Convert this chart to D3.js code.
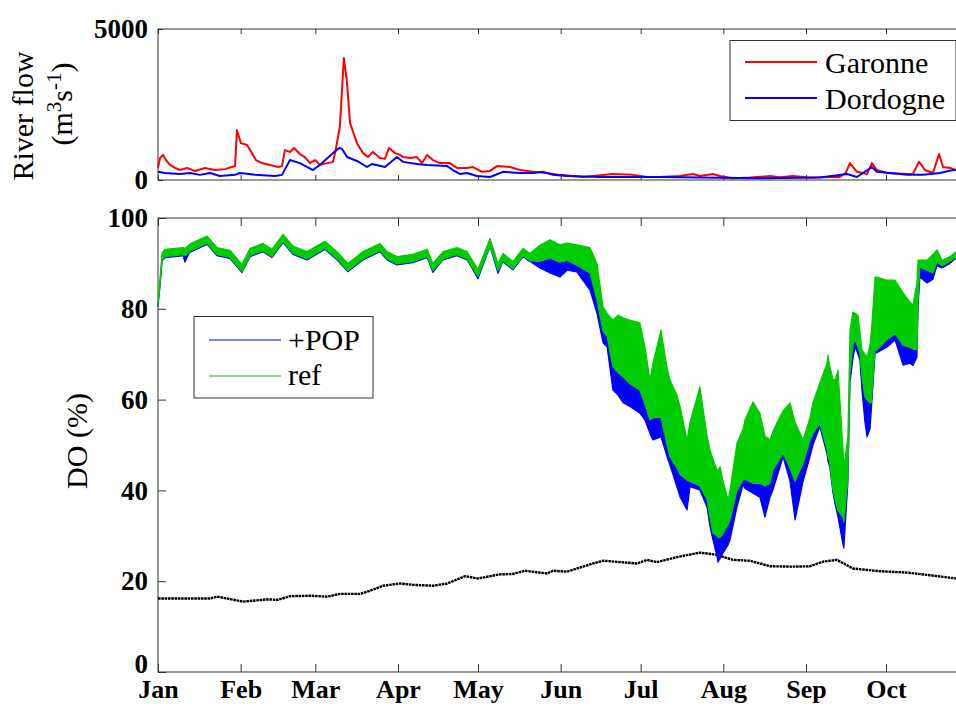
<!DOCTYPE html>
<html>
<head>
<meta charset="utf-8">
<script src="https://cdn.jsdelivr.net/npm/d3@7"></script>
<style>
  html, body { margin: 0; padding: 0; background: #fff; }
  svg { display: block; }
</style>
</head>
<body>
<svg id="chart" width="956" height="711"></svg>
<script>
// ---------------- DATA ----------------
const monthLabels = ["Jan","Feb","Mar","Apr","May","Jun","Jul","Aug","Sep","Oct"];
const monthStartDays = [0,31,59,90,120,151,181,212,243,273];
const flowTicks = [0, 5000];
const doTicks = [0, 20, 40, 60, 80, 100];

// River flow (m3 s-1), day of year (0 = 1 Jan)
const garonneDay  = [0,0.75,1.9,3,4.5,6.4,8.2,10.9,13.9,17.6,21.4,25.1,27.7,28.9,29.6,31.1,33.4,35.2,36.7,39,42,45,46.5,47.6,49.5,51,53.2,55.1,57,58.9,60.7,65.6,66.4,68.2,69.7,70.9,72,74.6,76.9,78.7,80.6,83.2,85.1,86.6,88.9,90.7,91.9,94.5,97.1,99,100.9,103.1,105.7,109.5,112.1,115.9,118.1,121.5,124.5,127.1,132,135.7,140.6,145.9,150.7,159.4,170.6,178.1,183.4,188.2,195.7,200.6,203.2,208.1,210.7,215.6,222,229.5,233.2,238.1,244.5,252,255.7,258,259.5,262.1,265.9,267.7,269.6,273.4,280.9,283.1,285.4,287.6,290.6,292.9,294.4,297,299.2];
const garonneFlow = [400,730,830,660,500,400,330,400,300,400,330,360,430,460,1650,1220,1160,890,660,560,500,430,460,990,930,1060,860,760,560,660,500,600,890,1760,4040,3210,1890,1220,890,760,930,730,700,1060,890,830,760,730,760,560,830,660,560,560,400,400,430,270,300,460,430,330,270,230,170,100,200,170,100,100,130,200,130,200,130,60,80,130,90,130,80,100,100,250,560,270,200,560,330,230,200,200,600,330,230,860,430,400,330];

const dordogneDay  = [0,2.6,8.2,12,15.7,19.5,23.2,28.9,30.7,36.4,43.9,46.5,49.5,53.2,58.1,60.7,65.6,67.9,69,70.9,74.6,78.4,80.2,85.1,89.6,91.9,97.1,100.9,108.4,110.6,113.2,115.9,119.6,124.5,129.4,135.7,140.6,144.4,148.1,153.4,165.7,188.2,203.2,225.7,248.2,258.4,262.1,267.7,269.6,274.5,280.9,286.9,293.2,298.1,299.2];
const dordogneFlow = [270,230,200,230,170,230,130,170,230,170,130,170,660,560,330,500,890,1060,1030,760,630,430,530,430,760,600,530,500,460,330,200,230,130,100,270,230,230,270,170,130,100,100,80,60,80,200,100,430,270,230,170,170,230,330,330];

// Dissolved oxygen saturation (%): tidal range of the "ref" run and lower envelope of "+POP" run
const doDay  = [0,0.75,1.5,2.6,6.4,9.4,10.1,12,15.7,18.4,22.1,27,31.5,34.5,39.4,42.7,46.9,50.6,55.9,62.6,67.1,71.2,76.9,83.2,85.9,89.6,95.6,100.9,103.1,106.9,112.1,115.9,120,124.5,127.5,129.4,133.1,136.9,139.5,143.2,147,150.7,153.4,157.1,162,164.6,166.9,168.4,170.6,172.5,174.4,177,180.7,182.6,184.5,185.6,188.6,190.9,192,194.6,195.8,198.4,199.5,203.2,205.9,207,208.1,209.6,210,210.8,211.9,213.8,214.5,217.1,219.4,220.1,223.1,225.7,227.6,229.5,230.6,233.2,234.4,237,238.9,241.9,244.5,245.6,248.2,250.9,251.2,251.9,253.1,253.9,255,256.9,257.2,258.7,259.5,260.6,261.4,262.5,263.2,264,265.1,265.9,267,267.5,268.9,269.6,273.4,276.4,279.4,282,283.1,284.6,285,285.7,288.4,290.6,292.1,294,297,299.2];
const refMax = [82.2,86.8,92.3,93.1,93.3,93.5,93.3,94.3,95.3,96,93.5,92.9,89.8,93.3,94.4,93.1,96.4,93.8,92.6,94.9,92.6,90,92.6,94.4,92.6,91.5,92,93.1,90,92.6,93.5,92.6,88.7,95.5,90,92.2,90.4,93.3,92.2,94,95.2,94.1,94.5,94.1,93.5,90,80.4,79,77.5,78.6,78,77.5,76.9,71.6,64.3,68,75.3,67,64.3,61,58.4,51,55,62.8,52,48.9,47,44.5,44.5,45.2,42,37.9,40,50.4,53.5,55.5,59.5,57,52,51.1,53,56.2,57.5,59.3,55,51.1,56,59.3,63.7,68,69.8,67.5,64.5,64.3,66.5,48.9,45,51.8,75.3,79.3,79,78.6,75,70.9,70,69.4,72,75,87,87,86.3,86.3,83.5,81.5,80.8,85.7,90.7,90.7,90.7,92,93,90.7,91.5,92.5];
const refMin = [80.8,85.2,90.7,91.5,91.7,91.9,91.7,92.7,93.7,94.4,91.9,91.3,88.2,91.7,92.8,91.5,94.8,92.2,91,93.3,91,88.4,91,92.8,91,89.9,90.4,91.5,88.4,91,91.9,91,87.1,93.9,88.4,90.6,88.8,91.7,90.6,90.5,91.2,90.3,90.7,89.6,87.9,82,75,74,67.2,66,65,63.5,62.1,59,55.5,56,56.2,50,47.4,45,43.5,42.3,42,41,38,34,30.6,30,29.7,29.7,30.5,32.5,33.5,40,42.3,42.5,41.6,41.6,41,41.6,44.5,47,48.2,45,42,46,51,52.5,54.8,48.9,47.5,46,40.1,38,35.5,34.1,33,42.3,65.9,72,73.1,71.5,70.3,65,60.6,60,59.3,59.3,70.9,70.9,73.3,74.5,72,71.5,71.2,71,81.3,89.2,88.5,87.9,90.3,89.5,90.5,91.4];
const popMin = [80.7,85.1,90.6,91.4,91.6,91.8,90.3,92.6,93.6,94.3,91.8,91.2,88.1,91.6,92.7,91.4,94.7,92.1,90.9,93.2,90.9,88.3,90.9,92.7,90.9,89.8,90.3,91.4,88.0,90.9,91.8,90.9,86.6,93.8,87.8,90.5,88.6,91.6,90.4,89,87.9,87,88.5,88.1,84.1,79,72.5,71.6,62.1,61,59.3,58.5,57,55.5,52.5,51.1,51.8,47.4,45.5,40.8,38.5,35.7,40.8,40.1,36.3,32,29.1,25.5,24.2,25,26.2,28,29.1,36.3,41.2,40.5,39.4,38.5,34.1,38.5,40.1,45,47.4,42,33.5,42,47.4,50,54,48,46.5,45.2,39.5,37,34.1,28,27.3,41.6,63.7,69,71.6,70,68.7,62,55,51.8,53.5,57.7,70.3,70.3,71.6,73.1,67.6,68,67.5,69.4,80,87,85.7,86.5,89.5,89,90,91.2];

// Black dotted curve on the DO panel
const tempDay = [0,19.5,22.1,31.9,40.9,45,49.5,57,63.4,68.2,75.7,79.5,84.4,90.7,95.6,103.1,108.4,115.1,120,128.2,133.1,137.6,145.9,148.1,153.4,159.4,163.1,166.9,169.5,179.6,183.4,187.1,194.6,203.2,205.9,209.6,215.6,222,229.5,238.1,244.5,249.4,254.6,260.6,270.7,280.9,288.4,299.2];
const tempVal = [16.2,16.2,16.6,15.5,16.0,15.9,16.7,16.8,16.6,17.2,17.2,17.9,19.0,19.5,19.2,19.0,19.5,21.1,20.6,21.5,21.6,22.3,21.7,22.3,22.1,23.2,23.9,24.5,24.4,23.9,24.7,24.2,25.3,26.3,26.1,25.8,24.7,24.5,23.3,23.2,23.3,24.3,24.7,22.8,22.2,21.9,21.4,20.6];

// ---------------- LAYOUT ----------------
const svg = d3.select("#chart");
const FONT = "'Liberation Serif','Times New Roman',Times,serif";
const left = 158, right = 958;
const topY0 = 29, topY1 = 180;
const botY0 = 218, botY1 = 672;
const frameColor = "#333";

const x = d3.scaleLinear().domain([0, 300]).range([left, right]);
const yFlow = d3.scaleLinear().domain([0, 5000]).range([topY1, topY0]);
const yDO = d3.scaleLinear().domain([0, 100]).range([botY1, botY0]);

function styleAxis(g, size) {
  g.select(".domain").remove();
  g.selectAll(".tick line").attr("stroke", frameColor).attr("stroke-width", 1);
  g.selectAll(".tick text")
    .attr("font-family", FONT).attr("font-size", size).attr("font-weight", "bold").attr("fill", "#000");
  g.attr("font-family", null).attr("font-size", null);
}

// ---------- TOP PANEL: river flow ----------
const topG = svg.append("g");
topG.append("rect").attr("x", left).attr("y", topY0).attr("width", right - left).attr("height", topY1 - topY0)
  .attr("fill", "none").attr("stroke", frameColor).attr("stroke-width", 1);

topG.append("g").attr("transform", `translate(0,${topY1})`)
  .call(d3.axisBottom(x).tickValues(monthStartDays).tickSize(-5).tickFormat(""))
  .call(g => styleAxis(g, 26));
topG.append("g").attr("transform", `translate(0,${topY0})`)
  .call(d3.axisTop(x).tickValues(monthStartDays).tickSize(-5).tickFormat(""))
  .call(g => styleAxis(g, 26));
topG.append("g").attr("transform", `translate(${left},0)`)
  .call(d3.axisLeft(yFlow).tickValues(flowTicks).tickSize(-5).tickPadding(10).tickFormat(d3.format("d")))
  .call(g => styleAxis(g, 27));

const flowLine = (days, vals) => d3.line().x((d, i) => x(days[i])).y(d => yFlow(d))(vals);
topG.append("path").attr("d", flowLine(garonneDay, garonneFlow))
  .attr("fill", "none").attr("stroke", "#ff0000").attr("stroke-width", 2).attr("stroke-linejoin", "round");
topG.append("path").attr("d", flowLine(dordogneDay, dordogneFlow))
  .attr("fill", "none").attr("stroke", "#0000ff").attr("stroke-width", 2).attr("stroke-linejoin", "round");

// Top legend
const lg1 = svg.append("g");
lg1.append("rect").attr("x", 730).attr("y", 40.5).attr("width", 226).attr("height", 80)
  .attr("fill", "#fff").attr("stroke", frameColor).attr("stroke-width", 1);
[["Garonne", "#ff0000", 62, 73], ["Dordogne", "#0000ff", 98, 109]].forEach(([t, c, ly, ty]) => {
  lg1.append("line").attr("x1", 745).attr("x2", 817).attr("y1", ly).attr("y2", ly).attr("stroke", c).attr("stroke-width", 2);
  lg1.append("text").attr("x", 825).attr("y", ty).text(t)
    .attr("font-family", FONT).attr("font-size", 30).attr("fill", "#000");
});

// Top y title
svg.append("text").attr("transform", "translate(33,116) rotate(-90)")
  .attr("text-anchor", "middle").attr("font-family", FONT).attr("font-size", 30).attr("fill", "#000")
  .text("River flow");
const t2 = svg.append("text").attr("transform", "translate(72,104) rotate(-90)")
  .attr("text-anchor", "middle").attr("font-family", FONT).attr("font-size", 30).attr("fill", "#000");
t2.append("tspan").text("(m");
t2.append("tspan").attr("font-size", 21).attr("dy", -11).text("3");
t2.append("tspan").attr("dy", 11).text("s");
t2.append("tspan").attr("font-size", 21).attr("dy", -11).text("-1");
t2.append("tspan").attr("dy", 11).text(")");

// ---------- BOTTOM PANEL: DO ----------
const botG = svg.append("g");
botG.append("rect").attr("x", left).attr("y", botY0).attr("width", right - left).attr("height", botY1 - botY0)
  .attr("fill", "none").attr("stroke", frameColor).attr("stroke-width", 1);

// black dotted curve
botG.append("path")
  .attr("d", d3.line().x((d, i) => x(tempDay[i])).y(d => yDO(d))(tempVal))
  .attr("fill", "none").attr("stroke", "#000").attr("stroke-width", 2.4).attr("stroke-dasharray", "2.6,0.7");

// +POP (blue) lower envelope below the ref range
botG.append("path")
  .attr("d", d3.area().x((d, i) => x(doDay[i])).y0((d, i) => yDO(popMin[i])).y1((d, i) => yDO(refMin[i]) + 1)(doDay))
  .attr("fill", "#0000ff").attr("stroke", "#0000ff").attr("stroke-width", 1.2).attr("stroke-linejoin", "round");
// ref (green) tidal range
botG.append("path")
  .attr("d", d3.area().x((d, i) => x(doDay[i])).y0((d, i) => yDO(refMin[i])).y1((d, i) => yDO(refMax[i]))(doDay))
  .attr("fill", "#00cc00").attr("stroke", "#00cc00").attr("stroke-width", 1.2).attr("stroke-linejoin", "round");

botG.append("g").attr("transform", `translate(0,${botY1})`)
  .call(d3.axisBottom(x).tickValues(monthStartDays).tickSize(-8).tickPadding(8).tickFormat((d, i) => monthLabels[i]))
  .call(g => styleAxis(g, 26));
botG.append("g").attr("transform", `translate(0,${botY0})`)
  .call(d3.axisTop(x).tickValues(monthStartDays).tickSize(-8).tickFormat(""))
  .call(g => styleAxis(g, 26));
botG.append("g").attr("transform", `translate(${left},0)`)
  .call(d3.axisLeft(yDO).tickValues(doTicks).tickSize(-8).tickPadding(10).tickFormat(d3.format("d")))
  .call(g => styleAxis(g, 27))
  .call(g => g.selectAll(".tick text").filter(d => d === 0).attr("y", -8));

// Bottom legend
const lg2 = svg.append("g");
lg2.append("rect").attr("x", 194).attr("y", 316.5).attr("width", 179).attr("height", 81.5)
  .attr("fill", "#fff").attr("stroke", frameColor).attr("stroke-width", 1);
[["+POP", "#0000ff", 340, 350], ["ref", "#00cc00", 376, 385]].forEach(([t, c, ly, ty]) => {
  lg2.append("line").attr("x1", 209).attr("x2", 281).attr("y1", ly).attr("y2", ly).attr("stroke", c).attr("stroke-width", 1.2);
  lg2.append("text").attr("x", 288).attr("y", ty).text(t)
    .attr("font-family", FONT).attr("font-size", 30).attr("fill", "#000");
});

// Bottom y title
svg.append("text").attr("transform", "translate(87,441) rotate(-90)")
  .attr("text-anchor", "middle").attr("font-family", FONT).attr("font-size", 30).attr("fill", "#000")
  .text("DO (%)");
</script>
</body>
</html>
